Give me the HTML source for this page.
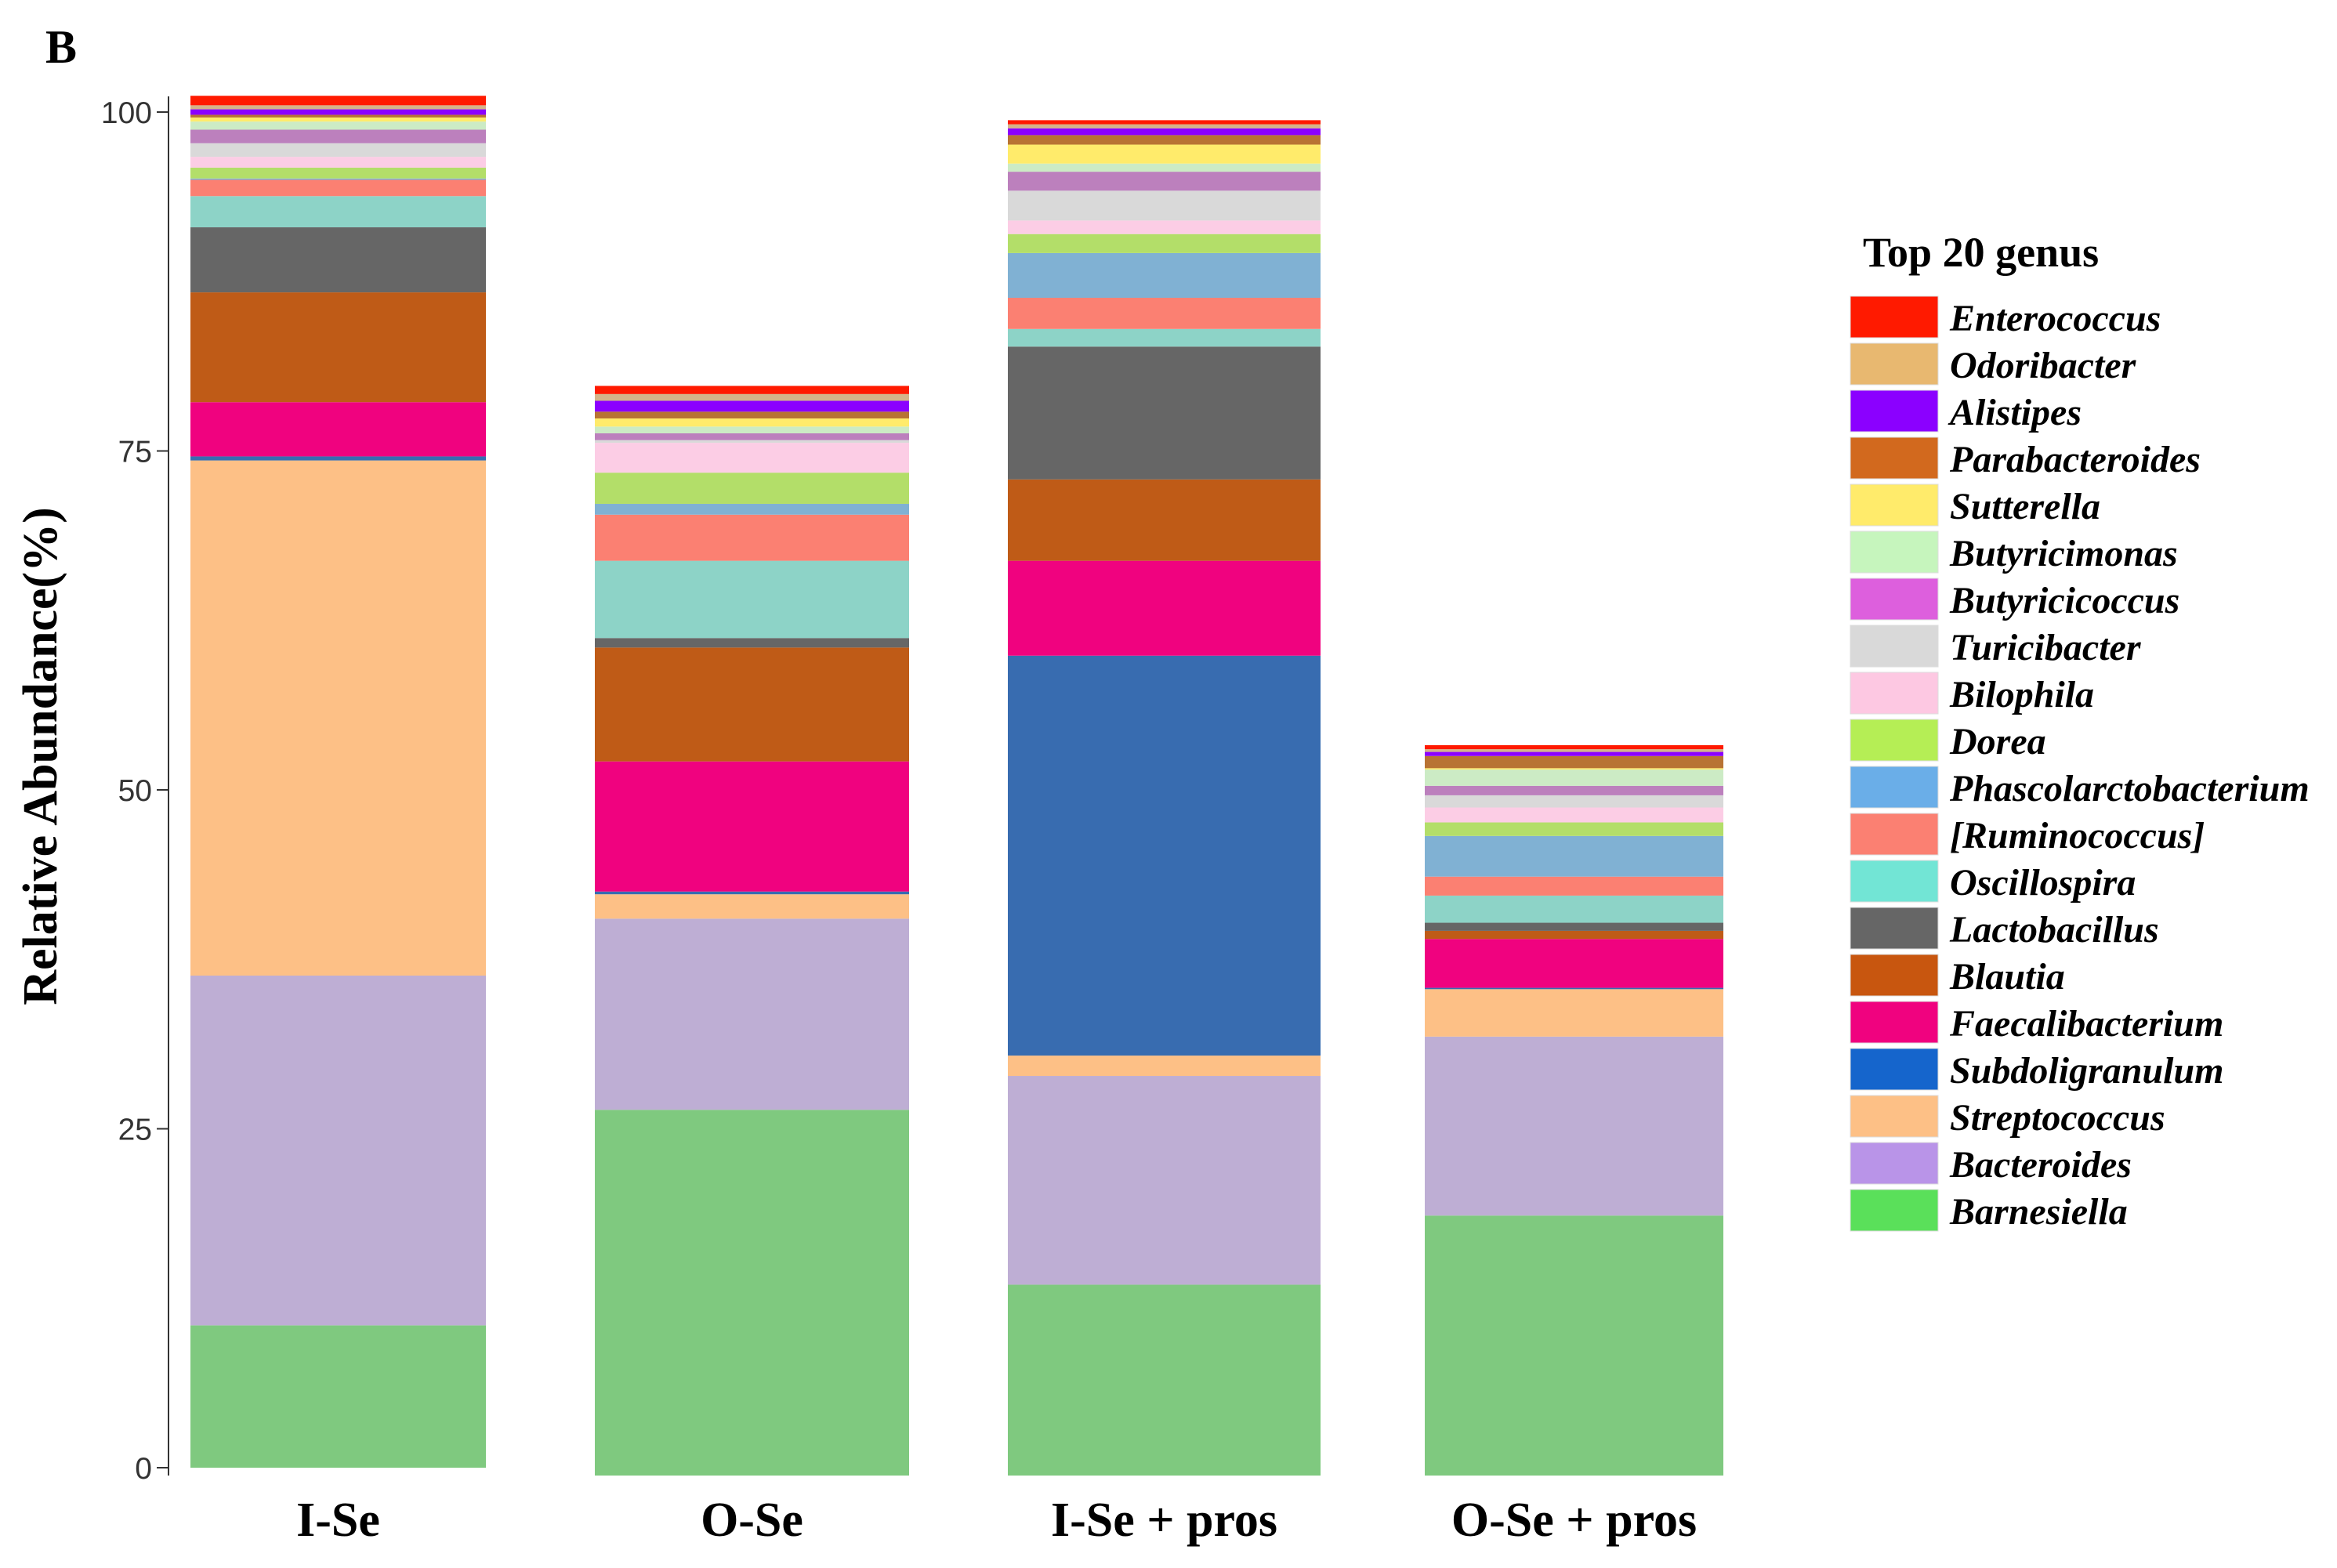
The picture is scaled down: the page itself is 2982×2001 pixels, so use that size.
<!DOCTYPE html>
<html><head><meta charset="utf-8"><style>
body{margin:0;background:#fff}
svg{display:block}
</style></head><body>
<svg id="chart" width="2982" height="2001" viewBox="0 0 2982 2001" xmlns="http://www.w3.org/2000/svg">
<text x="58" y="80" font-family="Liberation Serif" font-weight="bold" font-size="60">B</text>
<text transform="translate(72,965) rotate(-90)" text-anchor="middle" font-family="Liberation Serif" font-weight="bold" font-size="62">Relative Abundance(%)</text>
<g id="plot"></g>
<g id="legend"></g>
</svg>
<script>
const categories = ["I-Se","O-Se","I-Se + pros","O-Se + pros"];
const genera = ["Barnesiella","Bacteroides","Streptococcus","Subdoligranulum","Faecalibacterium","Blautia","Lactobacillus","Oscillospira","[Ruminococcus]","Phascolarctobacterium","Dorea","Bilophila","Turicibacter","Butyricicoccus","Butyricimonas","Sutterella","Parabacteroides","Alistipes","Odoribacter","Enterococcus"];
const valsISe =     [10.5,25.8,38.0,0.3,4.0,8.1,4.8,2.3,1.2,0.1,0.8,0.8,1.0,1.0,0.6,0.3,0.2,0.4,0.3,0.7];
const valsOSe =     [26.4,14.1,1.8,0.2,9.6,8.4,0.7,5.7,3.4,0.8,2.3,2.2,0.2,0.5,0.5,0.6,0.5,0.8,0.5,0.6];
const valsISePros = [13.5,15.4,1.5,29.5,7.0,6.0,9.8,1.3,2.3,3.3,1.4,1.0,2.2,1.4,0.6,1.4,0.7,0.5,0.3,0.3];
const valsOSePros = [18.6,13.2,3.5,0.1,3.6,0.6,0.6,2.0,1.4,3.0,1.0,1.1,0.9,0.7,1.2,0.1,0.9,0.3,0.2,0.3];
const series = [valsISe,valsOSe,valsISePros,valsOSePros];
const yTicks = [0,25,50,75,100];
const barColors = ["#7fc97f","#beaed4","#fdc086","#386cb0","#f0027f","#bf5b17","#666666","#8dd3c7","#fb8072","#80b1d3","#b3de69","#fccde5","#d9d9d9","#bc80bd","#ccebc5","#ffeb6b","#b87333","#8b00ff","#d4b48a","#ff1a00"];
const legendColors = ["#5ae05a","#b994e8","#fdc086","#1565cc","#f0027f","#c8560f","#666666","#72e5d5","#fb8072","#6aaee8","#b5ee55","#fdc8e2","#d9d9d9","#dd5fdd","#c6f5bd","#ffeb6b","#d2691e","#8b00ff","#e8b870","#ff1a00"];

const NS="http://www.w3.org/2000/svg";
const y0=1873, y100=143;
function yScale(v){return y0-(y0-y100)*v/100;}
const barX=[[243,620],[759,1160],[1286,1685],[1818,2199]];
const barBottomExtra=[0,10,10,10];
function xBand(i){return barX[i];}
function mk(tag,attrs,parent){const e=document.createElementNS(NS,tag);for(const k in attrs)e.setAttribute(k,attrs[k]);parent.appendChild(e);return e;}
const plot=document.getElementById('plot');
let ax=mk('line',{x1:215,x2:215,y1:y100-20,y2:y0+10,stroke:'#333','stroke-width':2},plot);


yTicks.forEach(t=>{
  const y=yScale(t);
  const tk=mk('line',{x1:200,x2:215,y1:y,y2:y,stroke:'#333','stroke-width':2},plot);
  
  
  const tl=mk('text',{x:194,y:y+14,'text-anchor':'end','font-family':'Liberation Sans','font-size':39,fill:'#333'},plot);
  tl.textContent=t;
  
  
});
series.forEach((vals,i)=>{
  const [xa,xb]=xBand(i);
  const g=mk('g',{},plot);
  
  
  let cum=0;
  vals.forEach((v,j)=>{
    const yt=yScale(cum+v), yb=yScale(cum)+(j===0?barBottomExtra[i]:0);
    const r=mk('rect',{x:xa,y:yt,width:xb-xa,height:Math.max(0,yb-yt),fill:barColors[j]},g);
    
    
    cum+=v;
  });
  const lab=mk('text',{x:(xa+xb)/2,y:1960,'text-anchor':'middle','font-family':'Liberation Serif','font-weight':'bold','font-size':62},plot);
  lab.textContent=categories[i];
  
  
});
const lg=document.getElementById('legend');
const lt=mk('text',{x:2377,y:340,'font-family':'Liberation Serif','font-weight':'bold','font-size':54},lg);
lt.textContent='Top 20 genus';


for(let k=0;k<genera.length;k++){
  const j=genera.length-1-k;
  const top=378+k*60;
  const sw=mk('rect',{x:2361,y:top,width:112,height:53,fill:legendColors[j],stroke:'#ddd','stroke-width':1},lg);
  
  
  const tx=mk('text',{x:2488,y:top+44,'font-family':'Liberation Serif','font-weight':'bold','font-style':'italic','font-size':48},lg);
  tx.textContent=genera[j];
  
  
}
</script>
</body></html>
